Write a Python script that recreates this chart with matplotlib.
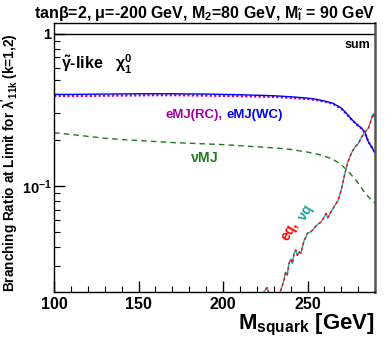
import numpy as np
import matplotlib.pyplot as plt

plt.rcParams['font.family'] = ['Liberation Sans', 'DejaVu Sans']
plt.rcParams['font.weight'] = 'bold'
plt.rcParams['mathtext.default'] = 'regular'

# squark masses (GeV)
m = [100, 110, 120, 130, 140, 150, 160, 170, 180, 190, 200, 210, 220, 230,
     240, 250, 255, 260, 265, 270, 273, 276, 279, 282, 284, 286, 288, 290]
br_sum = [1.0] * len(m)
br_emj_wc = [0.400, 0.400, 0.401, 0.402, 0.403, 0.404, 0.404, 0.404, 0.403, 0.402,
             0.400, 0.398, 0.395, 0.392, 0.386, 0.378, 0.372, 0.362, 0.350, 0.325,
             0.300, 0.275, 0.255, 0.240, 0.225, 0.195, 0.180, 0.165]
br_emj_rc = [0.390, 0.390, 0.391, 0.392, 0.393, 0.394, 0.395, 0.395, 0.394, 0.393,
             0.391, 0.389, 0.387, 0.385, 0.380, 0.373, 0.368, 0.358, 0.347, 0.322,
             0.298, 0.273, 0.254, 0.238, 0.223, 0.195, 0.180, 0.165]
br_numj = [0.224, 0.218, 0.212, 0.206, 0.202, 0.199, 0.196, 0.193, 0.191, 0.189,
           0.187, 0.184, 0.181, 0.178, 0.174, 0.167, 0.163, 0.157, 0.150, 0.138,
           0.128, 0.118, 0.108, 0.097, 0.090, 0.085, 0.080, 0.077]

m_eq = [222, 224, 226, 227, 229, 231, 233, 235, 236, 237, 238, 239, 240, 241, 242,
        243, 244, 245, 246, 247, 248, 249, 250, 252, 254, 256, 258, 260, 261, 262,
        264, 266, 268, 270, 272, 274, 276, 278, 280, 282, 284, 286, 288, 289, 290]
br_eq = [0.018, 0.020, 0.0215, 0.020, 0.018, 0.017, 0.019, 0.022, 0.024, 0.027,
         0.026, 0.031, 0.033, 0.031, 0.036, 0.038, 0.035, 0.037, 0.036, 0.040,
         0.044, 0.046, 0.049, 0.050, 0.053, 0.056, 0.058, 0.063, 0.066, 0.062,
         0.068, 0.074, 0.080, 0.095, 0.120, 0.145, 0.165, 0.180, 0.190, 0.210,
         0.225, 0.240, 0.280, 0.300, 0.270]

fig = plt.figure(figsize=(3.92, 3.37), dpi=100)
ax = fig.add_axes([0.138, 0.1335, 0.819, 0.7985])

ax.plot(m, br_sum, color='black', lw=1.0)
ax.plot(m, br_emj_rc, color='#b000b0', lw=1.6, ls=(0, (1, 1)))
ax.plot(m, br_emj_wc, color='blue', lw=1.0)
ax.plot(m, br_numj, color='#207a20', lw=1.0, ls=(0, (4, 3)))
ax.plot(m_eq, br_eq, color='#20b0b0', lw=1.0)
ax.plot(m_eq, br_eq, color='red', lw=1.0, ls=(0, (2, 2)))

ax.set_yscale('log')
ax.set_xlim(100, 290)
ax.set_ylim(0.0201, 1.18)
ax.set_xticks([100, 150, 200, 250])
ax.set_xticks(np.arange(110, 290, 10), minor=True)
ax.set_yticks([0.1, 1])
ax.set_yticklabels(['$10^{-1}$', '1'])
ax.tick_params(which='both', direction='in', top=False, right=False)
ax.tick_params(axis='x', labelsize=11.5)
ax.tick_params(axis='y', labelsize=10.5, pad=2)
ax.tick_params(which='major', length=8, width=1.0)
ax.tick_params(which='minor', length=4, width=0.8)
ax.yaxis.set_minor_formatter(plt.NullFormatter())
for s in ax.spines.values():
    s.set_linewidth(1.0)
ax.spines['right'].set_linewidth(1.8)
ax.spines['right'].set_color('#555555')

ax.set_title(r'tan$\beta$=2, $\mu$=-200 GeV, M$_2$=80 GeV, M$_{\tilde{l}}$ = 90 GeV',
             fontsize=11.5, fontweight='bold', loc='right', pad=3)
ax.set_ylabel(r"Branching Ratio at Limit for $\lambda'_{11k}$ (k=1,2)",
              fontsize=9.8, fontweight='bold')
ax.yaxis.set_label_coords(-0.104, 0.48)
ax.set_xlabel(r'M$_{squark}$ [GeV]', fontsize=16, fontweight='bold',
              loc='right', labelpad=0)

ax.text(287, 0.85, 'sum', fontsize=9, ha='right', va='center')
ax.text(104, 0.63, r'$\tilde{\gamma}$-like   $\chi^0_1$', fontsize=11.5, va='center')
t1 = ax.text(166, 0.292, 'eMJ(RC),', color='#a000a0', fontsize=9.5,
             ha='left', va='center')
ax.annotate('eMJ(WC)', xy=(1, 0.5), xycoords=t1, xytext=(3, 0),
            textcoords='offset points', color='blue', fontsize=9.5,
            ha='left', va='center')
ax.text(189, 0.152, r'$\nu$MJ', color='#207a20', fontsize=10, ha='center', va='center')
ax.text(239.5, 0.051, 'eq,', color='red', fontsize=10, rotation=60,
        ha='center', va='center')
ax.text(249.5, 0.066, r'$\nu$q', color='#20a0a0', fontsize=10, rotation=60,
        ha='center', va='center')

fig.savefig('out.png', dpi=100)
